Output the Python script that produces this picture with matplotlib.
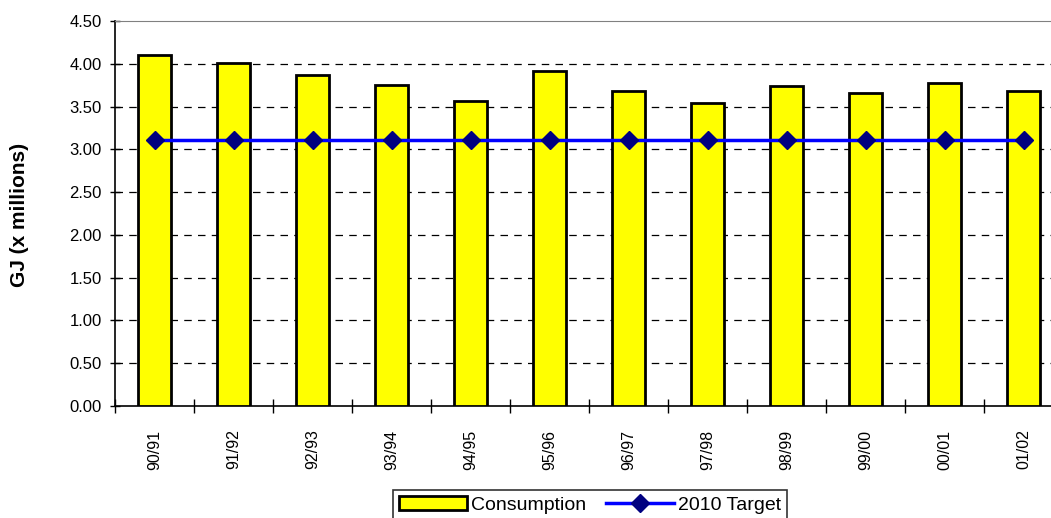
import matplotlib.pyplot as plt
import numpy as np

plt.rcParams['font.family'] = ['Liberation Sans', 'DejaVu Sans']

years = ['90/91', '91/92', '92/93', '93/94', '94/95', '95/96',
         '96/97', '97/98', '98/99', '99/00', '00/01', '01/02']
consumption = [4.10, 4.01, 3.87, 3.75, 3.56, 3.91, 3.68, 3.54, 3.74, 3.66, 3.77, 3.68]
target = [3.11] * len(years)

fig = plt.figure(figsize=(10.51, 5.18), dpi=100)
# plot area runs past the right edge of the figure
ax = fig.add_axes([115 / 1051, (518 - 406) / 518, 948 / 1051, 385 / 518])

x = np.arange(len(years))
bars = ax.bar(x, consumption, width=0.41, color='#FFFF00', edgecolor='black',
              linewidth=2, label='Consumption', zorder=3)
line, = ax.plot(x, target, color='#0000FF', linewidth=2.5, marker='D', markersize=9,
                markerfacecolor='#000080', markeredgecolor='#000080',
                label='2010 Target', zorder=4)

ax.set_xlim(-0.5, len(years) - 0.5)
ax.set_ylim(0, 4.5)
ax.set_yticks(np.arange(0, 4.51, 0.5))
ax.set_yticklabels([f'{v:.2f}' for v in np.arange(0, 4.51, 0.5)], fontsize=12)
for v in np.arange(0.5, 4.4, 0.5):
    ax.axhline(v, color='black', linestyle=(0, (6, 5)), linewidth=0.9, zorder=1)

ax.set_xticks(x)
ax.set_xticklabels(years, rotation=90, fontsize=11.5)
ax.tick_params(axis='x', length=0, pad=17)
ax.set_xticks(np.arange(-0.5, len(years), 1), minor=True)
ax.tick_params(axis='x', which='minor', direction='inout', length=10, width=1)
ax.tick_params(axis='y', direction='inout', length=7, width=1, pad=6)

ax.spines['top'].set_color('#808080')
ax.spines['right'].set_visible(False)
ax.spines['left'].set_linewidth(1.2)
ax.spines['bottom'].set_linewidth(1.2)

fig.text(20 / 1051, 1 - 215 / 518, 'GJ (x millions)', rotation=90, fontsize=15,
         fontweight='bold', ha='center', va='center')

leg = fig.legend([bars, line], ['Consumption', '2010 Target'], loc='center',
                 bbox_to_anchor=(590 / 1051, 1 - 505 / 518), ncol=2,
                 fontsize=14, frameon=True, fancybox=False, edgecolor='black',
                 handlelength=3.5, handletextpad=0.2, columnspacing=1.0,
                 borderpad=0.3)
leg.get_frame().set_linewidth(1.2)

fig.savefig('out.png', dpi=100)
